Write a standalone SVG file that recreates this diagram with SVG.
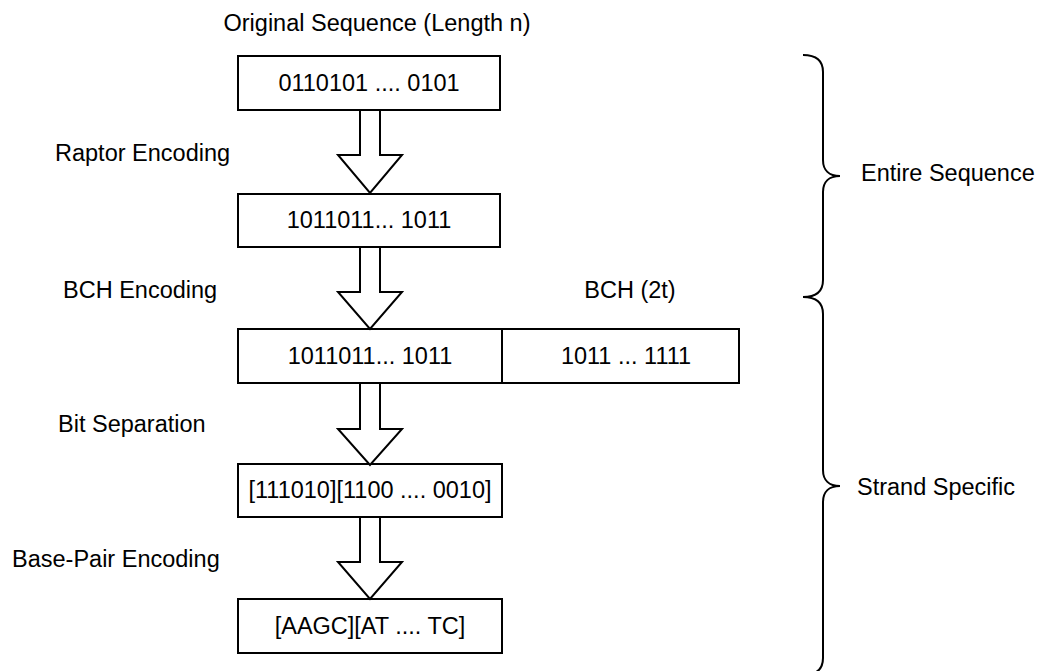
<svg xmlns="http://www.w3.org/2000/svg" width="1041" height="671" viewBox="0 0 1041 671">
<style>
  text { font-family: "Liberation Sans", Arial, Helvetica, sans-serif; font-size: 23.5px; fill: #000; }
  .box { fill: #fff; stroke: #000; stroke-width: 2; }
  .arrow { fill: #fff; stroke: #000; stroke-width: 2; stroke-linejoin: miter; }
  .brace { fill: none; stroke: #000; stroke-width: 2; }
  .c { text-anchor: middle; }
</style>
<rect width="1041" height="671" fill="#fff"/>
<g id="labels">
  <text x="377" y="31" class="c">Original Sequence (Length n)</text>
  <text x="55" y="161">Raptor Encoding</text>
  <text x="63" y="298">BCH Encoding</text>
  <text x="58" y="432">Bit Separation</text>
  <text x="12" y="567">Base-Pair Encoding</text>
  <text x="630" y="298" class="c">BCH (2t)</text>
</g>
<g id="node-original">
  <rect class="box" x="238" y="56" width="262" height="54"/>
  <text x="369" y="91" class="c">0110101 .... 0101</text>
</g>
<g id="node-raptor">
  <rect class="box" x="238" y="194" width="262" height="53"/>
  <text x="369" y="228" class="c">1011011... 1011</text>
</g>
<g id="node-bch">
  <rect class="box" x="238" y="329" width="264" height="54"/>
  <text x="370" y="364" class="c">1011011... 1011</text>
</g>
<g id="node-bch-parity">
  <rect class="box" x="502" y="329" width="237" height="54"/>
  <text x="626" y="364" class="c">1011 ... 1111</text>
</g>
<g id="node-bitsep">
  <rect class="box" x="238" y="464" width="264" height="53"/>
  <text x="370" y="498" class="c">[111010][1100 .... 0010]</text>
</g>
<g id="node-basepair">
  <rect class="box" x="238" y="599" width="264" height="54"/>
  <text x="370" y="634" class="c">[AAGC][AT .... TC]</text>
</g>
<g id="connectors">
  <path class="arrow" d="M360 110 L380 110 L380 155 L402 155 L370 193 L338 155 L360 155 Z"/>
  <path class="arrow" d="M360 247 L380 247 L380 292 L402 292 L370 329 L338 292 L360 292 Z"/>
  <path class="arrow" d="M360 383 L380 383 L380 429 L402 429 L370 465 L338 429 L360 429 Z"/>
  <path class="arrow" d="M360 517 L380 517 L380 562 L402 562 L370 599 L338 562 L360 562 Z"/>
</g>
<g id="brace-entire">
  <path class="brace" d="M803 55 C816 55 823 60 823 72 L823 160 C823 170 829 176 840 176 C829 176 823 182 823 192 L823 280 C823 292 816 297 803 297"/>
  <text x="861" y="181">Entire Sequence</text>
</g>
<g id="brace-strand">
  <path class="brace" d="M803 297 C816 297 823 302 823 314 L823 470 C823 480 829 486 840 486 C829 486 823 492 823 502 L823 658 C823 670 816 675 803 675"/>
  <text x="857" y="495">Strand Specific</text>
</g>
</svg>
